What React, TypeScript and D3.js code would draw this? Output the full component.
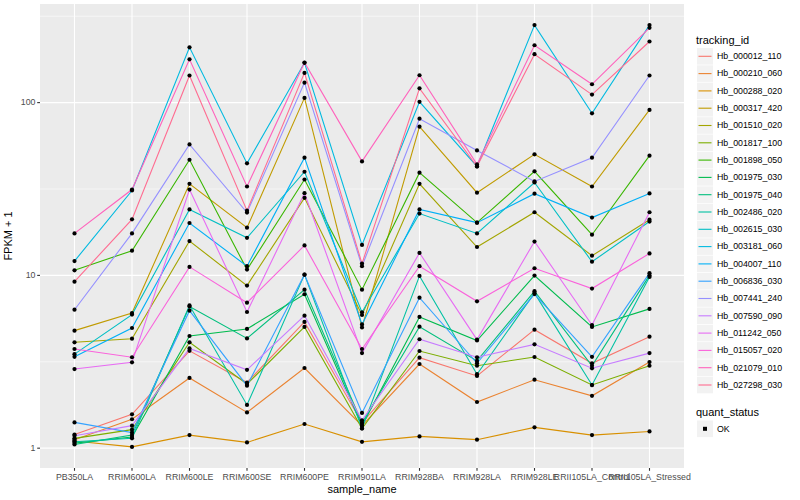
import { useEffect } from "react"
import * as d3 from "d3"

const samples = [
  "PB350LA",
  "RRIM600LA",
  "RRIM600LE",
  "RRIM600SE",
  "RRIM600PE",
  "RRIM901LA",
  "RRIM928BA",
  "RRIM928LA",
  "RRIM928LE",
  "RRII105LA_Control",
  "RRII105LA_Stressed",
]

// FPKM + 1 per gene, in sample order
const hb000012_110 = [1.2, 1.57, 3.66, 2.4, 5.38, 1.4, 3.34, 2.62, 4.85, 3.1, 4.42]
const hb000210_060 = [1.12, 1.47, 2.55, 1.61, 2.91, 1.35, 3.07, 1.85, 2.49, 2.01, 3.15]
const hb000288_020 = [1.1, 1.017, 1.19, 1.08, 1.38, 1.088, 1.17, 1.12, 1.32, 1.19, 1.25]
const hb000317_420 = [4.79, 6.06, 33.9, 18.9, 106.5, 5.0, 72.6, 30.1, 50.2, 32.7, 90.7]
const hb001510_020 = [4.1, 4.3, 15.8, 8.73, 28.1, 5.9, 33.9, 14.6, 23.2, 13.0, 21.0]
const hb001817_100 = [1.14, 1.28, 4.1, 2.35, 5.03, 1.3, 3.65, 3.0, 3.37, 2.32, 3.0]
const hb001898_050 = [10.7, 13.9, 46.7, 10.8, 35.9, 8.27, 39.3, 20.2, 40.0, 17.2, 49.3]
const hb001975_030 = [1.07, 1.16, 4.46, 4.9, 7.78, 1.35, 5.75, 4.2, 9.97, 5.03, 6.4]
const hb001975_040 = [1.05, 1.19, 6.6, 4.32, 8.27, 1.4, 5.05, 3.2, 8.1, 3.0, 10.0]
const hb002486_020 = [1.09, 1.14, 6.7, 1.78, 10.1, 1.3, 9.93, 2.68, 7.9, 2.32, 9.8]
const hb002615_030 = [3.5, 5.93, 24.1, 16.5, 39.8, 6.12, 22.8, 17.5, 34.5, 12.0, 20.5]
const hb003181_060 = [12.1, 31.0, 209, 44.5, 170, 15.0, 101, 42.7, 281, 86.7, 281]
const hb004007_110 = [3.38, 4.96, 20.1, 11.3, 48.0, 5.2, 24.1, 20.2, 29.7, 21.6, 29.8]
const hb006836_030 = [1.41, 1.23, 6.25, 2.3, 10.1, 1.6, 7.43, 3.1, 7.8, 3.38, 10.3]
const hb007441_240 = [6.33, 17.5, 57.3, 23.1, 130.5, 11.3, 80.7, 52.9, 35.0, 48.0, 143.5]
const hb007590_090 = [1.18, 1.35, 3.78, 2.84, 5.85, 1.45, 4.27, 3.36, 3.99, 2.9, 3.55]
const hb011242_050 = [2.87, 3.14, 31.4, 6.14, 29.9, 3.55, 13.5, 4.25, 15.7, 5.16, 23.2]
const hb015057_020 = [3.75, 3.36, 11.2, 6.95, 14.9, 3.75, 11.3, 7.08, 11.0, 8.39, 13.4]
const hb021079_010 = [17.5, 31.4, 178, 32.7, 170.6, 45.7, 144, 43.9, 214.8, 127.7, 271]
const hb027298_030 = [9.2, 21.1, 143.5, 23.7, 148.6, 11.7, 121, 42.7, 190.6, 111.3, 225.8]

const series = [
  { id: "Hb_000012_110", values: hb000012_110 },
  { id: "Hb_000210_060", values: hb000210_060 },
  { id: "Hb_000288_020", values: hb000288_020 },
  { id: "Hb_000317_420", values: hb000317_420 },
  { id: "Hb_001510_020", values: hb001510_020 },
  { id: "Hb_001817_100", values: hb001817_100 },
  { id: "Hb_001898_050", values: hb001898_050 },
  { id: "Hb_001975_030", values: hb001975_030 },
  { id: "Hb_001975_040", values: hb001975_040 },
  { id: "Hb_002486_020", values: hb002486_020 },
  { id: "Hb_002615_030", values: hb002615_030 },
  { id: "Hb_003181_060", values: hb003181_060 },
  { id: "Hb_004007_110", values: hb004007_110 },
  { id: "Hb_006836_030", values: hb006836_030 },
  { id: "Hb_007441_240", values: hb007441_240 },
  { id: "Hb_007590_090", values: hb007590_090 },
  { id: "Hb_011242_050", values: hb011242_050 },
  { id: "Hb_015057_020", values: hb015057_020 },
  { id: "Hb_021079_010", values: hb021079_010 },
  { id: "Hb_027298_030", values: hb027298_030 },
]

// ggplot2 default hue palette, 20 levels
const palette = [
  "#F8766D", "#EA8331", "#D89000", "#C09B00", "#A3A500",
  "#7CAE00", "#39B600", "#00BB4E", "#00BF7D", "#00C1A3",
  "#00BFC4", "#00BAE0", "#00B0F6", "#35A2FF", "#9590FF",
  "#C77CFF", "#E76BF3", "#FA62DB", "#FF62BC", "#FF6C91",
]

const yBreaks = [1, 10, 100]
const yMinor = [Math.sqrt(10), Math.sqrt(1000), Math.sqrt(100000)]

const W = 800
const H = 500
const margin = { top: 4, right: 116, bottom: 32, left: 40 }
const font = "'Liberation Sans', Arial, Helvetica, sans-serif"

export default function App() {
  useEffect(() => {
    document.body.style.margin = "0"
  }, [])

  const innerW = W - margin.left - margin.right
  const innerH = H - margin.top - margin.bottom

  const x = d3.scalePoint<string>().domain(samples).range([0, innerW]).padding(0.6)

  const all = series.flatMap((s) => s.values)
  const lo = Math.log10(d3.min(all) as number)
  const hi = Math.log10(d3.max(all) as number)
  const pad = (hi - lo) * 0.05
  const y = d3
    .scaleLog()
    .domain([Math.pow(10, lo - pad), Math.pow(10, hi + pad)])
    .range([innerH, 0])

  const line = d3
    .line<number>()
    .x((_, i) => x(samples[i]) as number)
    .y((d) => y(d))

  const legendX = 696
  const keyTop = 48
  const keyH = 17.3

  return (
    <svg width={W} height={H} style={{ display: "block", fontFamily: font }}>
      <rect width={W} height={H} fill="#fff" />
      <g transform={`translate(${margin.left},${margin.top})`}>
        <rect width={innerW} height={innerH} fill="#EBEBEB" />
        {yMinor.map((v) =>
          y(v) > 0 && y(v) < innerH ? (
            <line key={"m" + v} x1={0} x2={innerW} y1={y(v)} y2={y(v)} stroke="#fff" strokeWidth={0.55} />
          ) : null,
        )}
        {yBreaks.map((v) => (
          <line key={"y" + v} x1={0} x2={innerW} y1={y(v)} y2={y(v)} stroke="#fff" strokeWidth={1.1} />
        ))}
        {samples.map((s) => (
          <line key={"x" + s} x1={x(s)} x2={x(s)} y1={0} y2={innerH} stroke="#fff" strokeWidth={1.1} />
        ))}

        {series.map((s, i) => (
          <path key={s.id} d={line(s.values) as string} fill="none" stroke={palette[i]} strokeWidth={1.1} />
        ))}
        {series.map((s) =>
          s.values.map((v, j) => (
            <circle key={s.id + j} cx={x(samples[j])} cy={y(v)} r={2.1} fill="#000" />
          )),
        )}

        {/* y axis */}
        {yBreaks.map((v) => (
          <g key={"yt" + v} transform={`translate(0,${y(v)})`}>
            <line x1={-2.8} x2={0} stroke="#333" strokeWidth={1.1} />
            <text x={-4.5} dy="0.32em" textAnchor="end" fontSize={8.8} fill="#4D4D4D">
              {v}
            </text>
          </g>
        ))}
        {/* x axis */}
        {samples.map((s) => (
          <g key={"xt" + s} transform={`translate(${x(s)},${innerH})`}>
            <line y1={0} y2={2.8} stroke="#333" strokeWidth={1.1} />
            <text y={11.6} textAnchor="middle" fontSize={8.8} fill="#4D4D4D">
              {s}
            </text>
          </g>
        ))}
        <text x={innerW / 2} y={innerH + 25} textAnchor="middle" fontSize={11} fill="#000">
          sample_name
        </text>
        <text
          transform={`translate(${-28},${innerH / 2}) rotate(-90)`}
          textAnchor="middle"
          fontSize={11}
          fill="#000"
        >
          FPKM + 1
        </text>
      </g>

      {/* legend: tracking_id */}
      <text x={legendX} y={44} fontSize={11} fill="#000">
        tracking_id
      </text>
      {series.map((s, i) => {
        const top = keyTop + i * keyH
        return (
          <g key={"lg" + s.id}>
            <rect x={legendX + 1} y={top} width={16} height={16.6} fill="#F2F2F2" />
            <line x1={legendX + 2.5} x2={legendX + 15.5} y1={top + 8.3} y2={top + 8.3} stroke={palette[i]} strokeWidth={1.1} />
            <text x={legendX + 21} y={top + 8.3} dy="0.32em" fontSize={8.8} fill="#000">
              {s.id}
            </text>
          </g>
        )
      })}

      {/* legend: quant_status */}
      <text x={legendX} y={416} fontSize={11} fill="#000">
        quant_status
      </text>
      <rect x={legendX + 1} y={420.5} width={16} height={16.6} fill="#F2F2F2" />
      <rect x={legendX + 7} y={426.8} width={4} height={4} fill="#000" />
      <text x={legendX + 21} y={428.8} dy="0.32em" fontSize={8.8} fill="#000">
        OK
      </text>
    </svg>
  )
}
